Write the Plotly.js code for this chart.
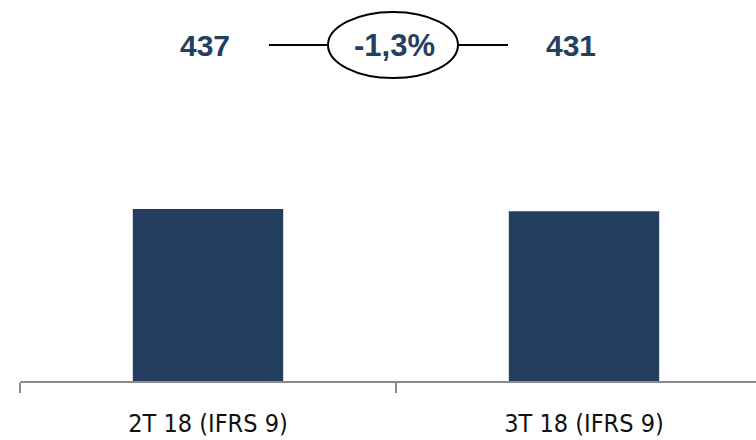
<!DOCTYPE html>
<html>
<head>
<meta charset="utf-8">
<script src="https://cdn.plot.ly/plotly-3.0.1.min.js"></script>
<style>html,body{margin:0;padding:0;background:#fff;}#chart{width:756px;height:440px;}</style>
</head>
<body>
<div id="chart"></div>
<script>
const categories = ["2T 18 (IFRS 9)", "3T 18 (IFRS 9)"];
const values = [437, 431];
const valueLabels = ["437", "431"];
const changeLabel = "-1,3%";

const navy = "#253F60";
const axisGray = "#8C8C8C";

const trace = {
  type: "bar",
  x: categories,
  y: values,
  marker: {color: navy, line: {width: 0}},
  hoverinfo: "skip"
};

const labelY = 1 - 45/381;

const layout = {
  width: 756, height: 440,
  margin: {l: 20, r: 0, t: 0, b: 59},
  paper_bgcolor: "#fff", plot_bgcolor: "#fff",
  bargap: 0.6,
  showlegend: false,
  xaxis: {
    type: "category",
    range: [-0.5, -0.5 + 736/376],
    showline: true, linecolor: axisGray, linewidth: 2,
    ticks: "outside", tickson: "boundaries", ticklen: 10, tickwidth: 2, tickcolor: axisGray,
    ticklabelstandoff: 19,
    showgrid: false, zeroline: false,
    tickfont: {family: "DejaVu Sans Condensed, Liberation Sans, sans-serif", size: 25, color: "#111"},
    fixedrange: true
  },
  yaxis: {
    range: [0, 437*381/172],
    visible: false, showgrid: false, zeroline: false, fixedrange: true
  },
  annotations: [
    {xref: "x", yref: "paper", x: 0, y: labelY, xshift: -3, text: "<b>" + valueLabels[0] + "</b>", showarrow: false,
     font: {family: "Liberation Sans, Arial, sans-serif", size: 30, color: navy}, yanchor: "middle"},
    {xref: "x", yref: "paper", x: 1, y: labelY, xshift: -13, text: "<b>" + valueLabels[1] + "</b>", showarrow: false,
     font: {family: "Liberation Sans, Arial, sans-serif", size: 30, color: navy}, yanchor: "middle"},
    {xref: "x", yref: "paper", x: 0.5, y: labelY, xshift: -2, text: "<b>" + changeLabel + "</b>", showarrow: false,
     font: {family: "Liberation Sans, Arial, sans-serif", size: 31, color: navy}, yanchor: "middle"}
  ],
  shapes: [
    {type: "circle", xref: "x", yref: "paper", x0: 0.5 - 68/376, x1: 0.5 + 62/376, y0: 1 - 78/381, y1: 1 - 12/381,
     line: {color: "#000", width: 2}, fillcolor: "rgba(0,0,0,0)"},
    {type: "line", xref: "x", yref: "paper", x0: 0.5 - 127/376, x1: 0.5 - 68/376, y0: labelY, y1: labelY,
     line: {color: "#000", width: 2}},
    {type: "line", xref: "x", yref: "paper", x0: 0.5 + 62/376, x1: 0.5 + 112/376, y0: labelY, y1: labelY,
     line: {color: "#000", width: 2}}
  ]
};

Plotly.newPlot("chart", [trace], layout, {displayModeBar: false, staticPlot: true});
</script>
</body>
</html>
